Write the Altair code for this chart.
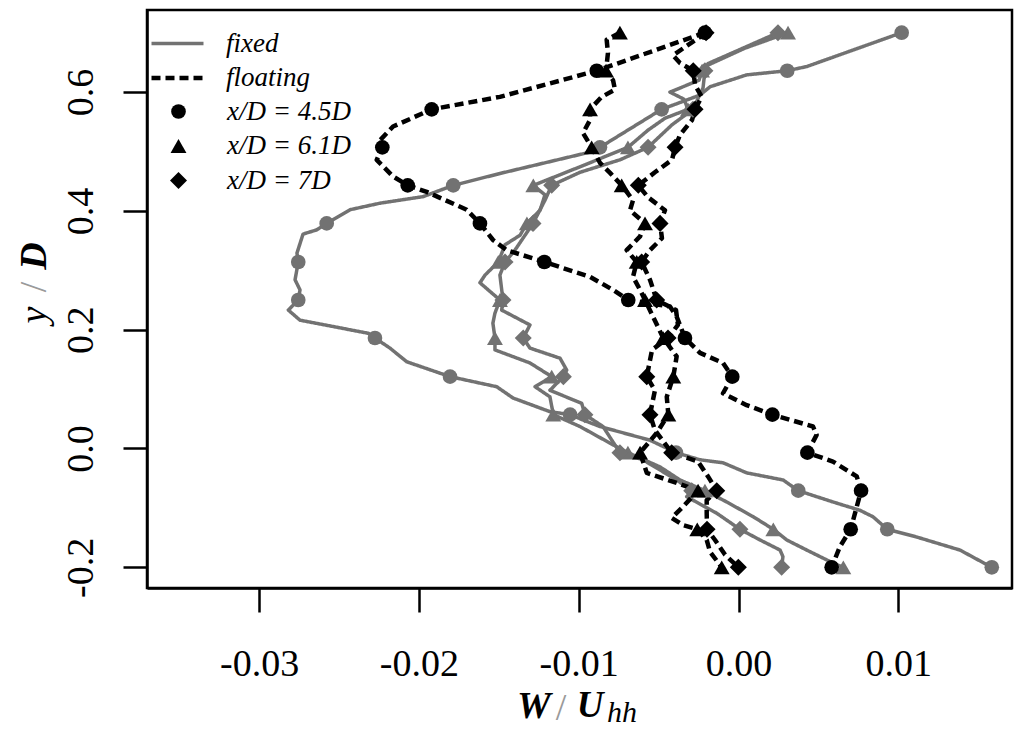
import altair as alt
import pandas as pd

# ---------------- data ----------------
models = ["fixed", "floating"]
positions = ["x/D = 4.5D", "x/D = 6.1D", "x/D = 7D"]

# y/D levels at which markers are drawn
levels = [0.700, 0.636, 0.571, 0.507, 0.443, 0.379, 0.314, 0.250,
          0.186, 0.121, 0.057, -0.007, -0.071, -0.136, -0.200]

# W/Uhh at the marker levels
fixed45_m = [0.01021, 0.00305, -0.00481, -0.00867, -0.01785, -0.02577, -0.02755, -0.02755,
             -0.02275, -0.01805, -0.01054, -0.00391, 0.00374, 0.00931, 0.01585]
fixed61_m = [0.00310, -0.00228, -0.00316, -0.00692, -0.01284, -0.01324, -0.01503, -0.01493,
             -0.01524, -0.01169, -0.01159, -0.00692, -0.00210, 0.00218, 0.00656]
fixed7_m = [0.00247, -0.00210, -0.00285, -0.00566, -0.01169, -0.01286, -0.01461, -0.01474,
            -0.01347, -0.01096, -0.00961, -0.00742, -0.00293, 0.00009, 0.00270]
float45_m = [-0.00210, -0.00887, -0.01920, -0.02229, -0.02070, -0.01618, -0.01215, -0.00690,
             -0.00335, -0.00039, 0.00212, 0.00431, 0.00767, 0.00702, 0.00583]
float61_m = [-0.00742, -0.00829, -0.00929, -0.00919, -0.00731, -0.00585, -0.00637, -0.00585,
             -0.00471, -0.00408, -0.00439, -0.00616, -0.00253, -0.00258, -0.00105]
float7_m = [-0.00203, -0.00283, -0.00272, -0.00397, -0.00627, -0.00491, -0.00606, -0.00512,
            -0.00441, -0.00574, -0.00554, -0.00418, -0.00136, -0.00197, -0.00001]

# full profiles
fixed45_x = [0.01021, 0.00427, 0.00305, 0.00051, -0.00178, -0.00241, -0.00481, -0.00867, -0.00929,
             -0.01493, -0.01785, -0.01974, -0.02243, -0.02431, -0.02577, -0.02640, -0.02725, -0.02763,
             -0.02755, -0.02775, -0.02744, -0.02755, -0.02817, -0.02744, -0.02317, -0.02275, -0.02181,
             -0.02076, -0.01805, -0.01513, -0.01411, -0.01180, -0.01054, -0.00973, -0.00867, -0.00554,
             -0.00391, -0.00241, -0.00097, 0.00051, 0.00279, 0.00374, 0.00591, 0.00760, 0.00842,
             0.00931, 0.01115, 0.01386, 0.01585]
fixed45_y = [0.700, 0.643, 0.636, 0.629, 0.609, 0.595, 0.571, 0.507, 0.499, 0.463, 0.443, 0.424,
             0.413, 0.402, 0.379, 0.368, 0.361, 0.329, 0.314, 0.284, 0.267, 0.250, 0.233, 0.216,
             0.194, 0.186, 0.169, 0.146, 0.121, 0.104, 0.085, 0.062, 0.057, 0.048, 0.037, 0.014,
             -0.007, -0.019, -0.024, -0.041, -0.053, -0.071, -0.090, -0.104, -0.115, -0.136,
             -0.149, -0.171, -0.200]

fixed61_x = [0.00310, 0.00041, -0.00203, -0.00228, -0.00247, -0.00429, -0.00341, -0.00316, -0.00460,
             -0.00566, -0.00692, -0.01013, -0.01284, -0.01211, -0.01242, -0.01324, -0.01367, -0.01461,
             -0.01503, -0.01586, -0.01618, -0.01493, -0.01524, -0.01537, -0.01524, -0.01524, -0.01305,
             -0.01169, -0.01273, -0.01180, -0.01159, -0.00992, -0.00804, -0.00692, -0.00491, -0.00366,
             -0.00210, -0.00074, 0.00093, 0.00218, 0.00302, 0.00427, 0.00593, 0.00656]
fixed61_y = [0.700, 0.674, 0.644, 0.636, 0.620, 0.600, 0.588, 0.571, 0.556, 0.536, 0.507, 0.472,
             0.443, 0.427, 0.401, 0.379, 0.359, 0.343, 0.314, 0.292, 0.279, 0.250, 0.228, 0.211,
             0.186, 0.166, 0.144, 0.121, 0.104, 0.087, 0.057, 0.037, 0.009, -0.007, -0.031,
             -0.053, -0.071, -0.090, -0.115, -0.136, -0.154, -0.171, -0.193, -0.200]

fixed7_x = [0.00247, -0.00022, -0.00191, -0.00210, -0.00222, -0.00285, -0.00416, -0.00566, -0.00742,
            -0.00992, -0.01169, -0.01211, -0.01286, -0.01336, -0.01399, -0.01461, -0.01493, -0.01474,
            -0.01482, -0.01305, -0.01347, -0.01305, -0.01117, -0.01075, -0.01096, -0.01180, -0.00981,
            -0.00961, -0.00848, -0.00742, -0.00598, -0.00387, -0.00293, -0.00324, -0.00285, -0.00136,
            0.00009, 0.00135, 0.00260, 0.00278, 0.00270]
fixed7_y = [0.700, 0.668, 0.648, 0.636, 0.607, 0.571, 0.545, 0.507, 0.486, 0.465, 0.443, 0.418,
            0.379, 0.359, 0.334, 0.314, 0.292, 0.250, 0.233, 0.208, 0.186, 0.169, 0.152, 0.132,
            0.121, 0.098, 0.076, 0.057, 0.037, -0.007, -0.019, -0.053, -0.071, -0.081, -0.087,
            -0.109, -0.136, -0.154, -0.171, -0.182, -0.200]

float45_x = [-0.00210, -0.00887, -0.01493, -0.01920, -0.02162, -0.02243, -0.02229, -0.02264, -0.02162,
             -0.02070, -0.01951, -0.01701, -0.01618, -0.01536, -0.01451, -0.01215, -0.00929, -0.00785,
             -0.00690, -0.00429, -0.00387, -0.00335, -0.00241, -0.00097, -0.00039, -0.00097, 0.00051,
             0.00212, 0.00466, 0.00489, 0.00431, 0.00591, 0.00740, 0.00767, 0.00740, 0.00702,
             0.00635, 0.00583]
float45_y = [0.700, 0.636, 0.592, 0.571, 0.542, 0.519, 0.507, 0.486, 0.458, 0.443, 0.432, 0.402,
             0.379, 0.351, 0.334, 0.314, 0.289, 0.267, 0.250, 0.239, 0.222, 0.186, 0.161, 0.144,
             0.121, 0.093, 0.073, 0.057, 0.037, 0.023, -0.007, -0.022, -0.047, -0.071, -0.098,
             -0.136, -0.165, -0.200]

float61_x = [-0.00742, -0.00825, -0.00817, -0.00829, -0.00785, -0.00773, -0.00856, -0.00929, -0.00929,
             -0.00973, -0.00919, -0.00867, -0.00804, -0.00731, -0.00660, -0.00679, -0.00585, -0.00616,
             -0.00700, -0.00637, -0.00660, -0.00616, -0.00585, -0.00535, -0.00471, -0.00387, -0.00408,
             -0.00449, -0.00439, -0.00512, -0.00616, -0.00574, -0.00387, -0.00253, -0.00355, -0.00418,
             -0.00347, -0.00258, -0.00199, -0.00178, -0.00105]
float61_y = [0.700, 0.688, 0.666, 0.636, 0.620, 0.604, 0.592, 0.571, 0.553, 0.531, 0.507, 0.481,
             0.464, 0.443, 0.418, 0.401, 0.379, 0.357, 0.334, 0.314, 0.289, 0.267, 0.250, 0.222,
             0.186, 0.155, 0.121, 0.087, 0.057, 0.026, -0.007, -0.041, -0.058, -0.071, -0.100,
             -0.117, -0.129, -0.136, -0.154, -0.174, -0.200]

float7_x = [-0.00203, -0.00410, -0.00366, -0.00283, -0.00272, -0.00230, -0.00272, -0.00291, -0.00366,
            -0.00397, -0.00416, -0.00523, -0.00627, -0.00566, -0.00460, -0.00491, -0.00479, -0.00554,
            -0.00606, -0.00554, -0.00512, -0.00391, -0.00379, -0.00441, -0.00541, -0.00574, -0.00523,
            -0.00554, -0.00523, -0.00418, -0.00253, -0.00191, -0.00136, -0.00199, -0.00199, -0.00197,
            -0.00147, -0.00084, -0.00001]
float7_y = [0.700, 0.662, 0.649, 0.636, 0.612, 0.592, 0.571, 0.553, 0.528, 0.507, 0.486, 0.465,
            0.443, 0.423, 0.401, 0.379, 0.354, 0.334, 0.314, 0.284, 0.250, 0.233, 0.208, 0.186,
            0.166, 0.121, 0.098, 0.057, 0.031, -0.007, -0.022, -0.047, -0.071, -0.087, -0.109,
            -0.136, -0.154, -0.179, -0.200]

x_ticks = [-0.03, -0.02, -0.01, 0.00, 0.01]
y_ticks = [-0.2, 0.0, 0.2, 0.4, 0.6]

# ---------------- tables ----------------
curves = [
    ("fixed", positions[0], fixed45_x, fixed45_y, fixed45_m),
    ("fixed", positions[1], fixed61_x, fixed61_y, fixed61_m),
    ("fixed", positions[2], fixed7_x, fixed7_y, fixed7_m),
    ("floating", positions[0], float45_x, float45_y, float45_m),
    ("floating", positions[1], float61_x, float61_y, float61_m),
    ("floating", positions[2], float7_x, float7_y, float7_m),
]
line_rows, pt_rows = [], []
for m, p, xs, ys, ms in curves:
    for i, (xv, yv) in enumerate(zip(xs, ys)):
        line_rows.append({"model": m, "pos": p, "curve": m + p, "i": i, "W": xv, "y": yv})
    for xv, yv in zip(ms, levels):
        pt_rows.append({"model": m, "pos": p, "W": xv, "y": yv})
line_df = pd.DataFrame(line_rows)
pt_df = pd.DataFrame(pt_rows)

# ---------------- styling ----------------
FONT = "Liberation Serif"
GREY = "#727272"

xscale = alt.Scale(domain=[-0.037015, 0.017115], nice=False, zero=False)
yscale = alt.Scale(domain=[-0.23485, 0.73822], nice=False, zero=False)

xaxis = alt.Axis(values=x_ticks, title=None, grid=False,
                 labelExpr="datum.value < 0 ? '-' + format(-datum.value, '.2f') : format(datum.value, '.2f')",
                 tickSize=24, tickWidth=2.5, tickColor="black",
                 domainColor="black", domainWidth=2.5,
                 labelFont=FONT, labelFontSize=38, labelColor="black",
                 labelBaseline="alphabetic", labelPadding=63,
                 labelFlush=False, labelOverlap=False)
yaxis = alt.Axis(values=y_ticks, title=None, grid=False,
                 labelExpr="datum.value < 0 ? '-' + format(-datum.value, '.1f') : format(datum.value, '.1f')",
                 tickSize=24, tickWidth=2.5, tickColor="black",
                 domainColor="black", domainWidth=2.5,
                 labelFont=FONT, labelFontSize=38, labelColor="black",
                 labelAngle=270, labelAlign="center", labelBaseline="alphabetic",
                 labelPadding=31, labelFlush=False, labelOverlap=False)

model_legend = alt.Legend(title=None, orient="none", legendX=17, legendY=20, direction="vertical",
                          padding=0, labelFont=FONT, labelFontSize=27, labelFontStyle="italic",
                          labelColor="black", symbolType="M-4,0H4", symbolSize=169,
                          symbolStrokeWidth=3.5, labelOffset=35, rowPadding=6.5)
pos_legend = alt.Legend(title=None, orient="none", legendX=18, legendY=88, direction="vertical",
                        padding=0, labelFont=FONT, labelFontSize=27, labelFontStyle="italic",
                        labelColor="black", symbolFillColor="black", symbolStrokeColor="black",
                        symbolStrokeWidth=0, labelOffset=35, rowPadding=6.5)

lines = alt.Chart(line_df).mark_line(strokeCap="butt", strokeJoin="round").encode(
    x=alt.X("W:Q", scale=xscale, axis=xaxis),
    y=alt.Y("y:Q", scale=yscale, axis=yaxis),
    detail="curve:N",
    order="i:Q",
    color=alt.Color("model:N", scale=alt.Scale(domain=models, range=[GREY, "#000000"]),
                    legend=model_legend),
    strokeDash=alt.StrokeDash("model:N", scale=alt.Scale(domain=models, range=[[1, 0], [9, 5]]),
                              legend=model_legend),
    strokeWidth=alt.StrokeWidth("model:N", scale=alt.Scale(domain=models, range=[3.5, 4.5]),
                                legend=None),
)

points = alt.Chart(pt_df).mark_point(filled=True, opacity=1, strokeWidth=0).encode(
    x=alt.X("W:Q", scale=xscale, axis=xaxis),
    y=alt.Y("y:Q", scale=yscale, axis=yaxis),
    fill=alt.Fill("model:N", scale=alt.Scale(domain=models, range=[GREY, "#000000"]), legend=None),
    shape=alt.Shape("pos:O", scale=alt.Scale(domain=positions, range=["circle", "triangle-up", "diamond"]),
                    legend=pos_legend),
    size=alt.Size("pos:O", scale=alt.Scale(domain=positions, range=[215, 290, 125]),
                  legend=pos_legend),
)


def label(s, x, y, size, style="normal", weight="normal", color="black", angle=0, baseline="alphabetic"):
    return alt.Chart(pd.DataFrame({"t": [s]})).mark_text(
        font=FONT, fontSize=size, fontStyle=style, fontWeight=weight, color=color,
        align="center", baseline=baseline, angle=angle
    ).encode(x=alt.value(x), y=alt.value(y), text="t:N")


titles = [
    label("W", 387, 708, 38, "italic", "bold"),
    label("/", 414, 710, 38, "normal", "normal", "#9a9a9a"),
    label("U", 443, 707, 37, "italic", "bold"),
    label("hh", 475, 712, 30, "italic", "normal"),
    label("D", -112, 246, 38, "italic", "bold", angle=270, baseline="middle"),
    label("/", -112, 277, 38, "normal", "normal", "#9a9a9a", angle=270, baseline="middle"),
    label("y", -112, 305, 38, "italic", "normal", angle=270, baseline="middle"),
]

chart = alt.layer(lines, points, *titles).properties(
    width=865, height=578,
    autosize=alt.AutoSizeParams(type="none"),
    padding={"left": 139, "top": 2, "right": 4, "bottom": 140},
).configure_view(
    stroke="black", strokeWidth=2.5
).configure_legend(
    labelFont=FONT, labelFontSize=27, labelFontStyle="italic", labelColor="black"
)

chart.save("out.html", embed_options={"renderer": "svg", "actions": False})
